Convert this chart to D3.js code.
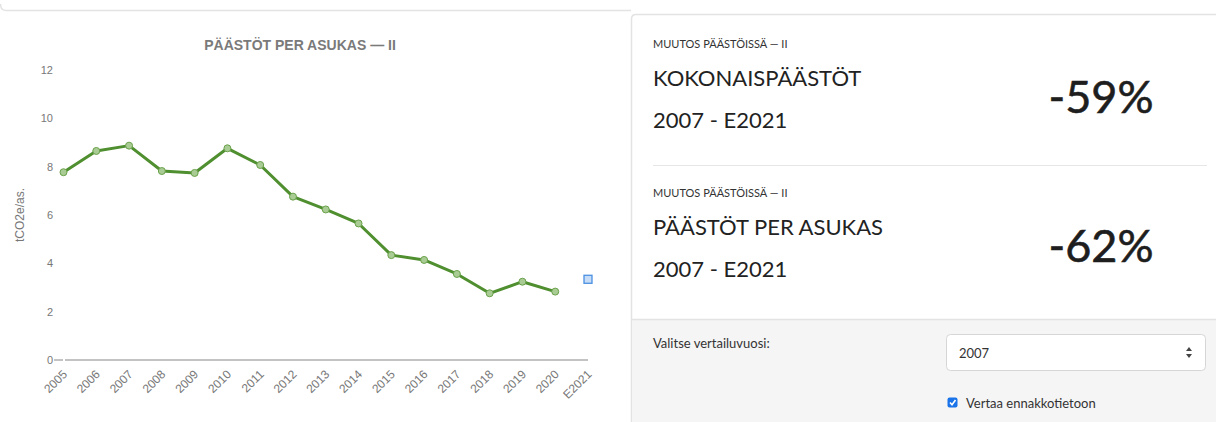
<!DOCTYPE html>
<html>
<head>
<meta charset="utf-8">
<script src="https://cdn.jsdelivr.net/npm/d3@7"></script>
<style>
  body { margin: 0; background: #fff; }
  svg { display: block; }
</style>
</head>
<body>
<div id="chart"></div>
<script>
// data
var years = ["2005", "2006", "2007", "2008", "2009", "2010", "2011", "2012", "2013", "2014", "2015", "2016", "2017", "2018", "2019", "2020", "E2021"];
var perCapita = [7.77, 8.65, 8.87, 7.82, 7.74, 8.76, 8.07, 6.76, 6.23, 5.65, 4.34, 4.14, 3.56, 2.76, 3.24, 2.83];
var estimateYear = "E2021";
var estimateValue = 3.34;
var yTicks = [0, 2, 4, 6, 8, 10, 12];

var cardTitles = ["KOKONAISPÄÄSTÖT", "PÄÄSTÖT PER ASUKAS"];
var cardChanges = ["-59%", "-62%"];
var cardPeriod = "2007 - E2021";
var compareYear = "2007";

var width = 1216, height = 422;

var svg = d3.select("#chart").append("svg")
  .attr("width", width)
  .attr("height", height);

// card border above the chart
svg.append("path")
  .attr("d", "M0.5,4 Q0.5,10.5 6,10.5 L631,10.5")
  .attr("fill", "none")
  .attr("stroke", "#e3e3e3")
  .attr("stroke-width", 1.5);

// ---- left chart ----
var x = d3.scalePoint().domain(years).range([63.5, 588]);
var y = d3.scaleLinear().domain([0, 12]).range([360, 70]);
var chartFont = "Liberation Sans, Arial, sans-serif";

svg.append("text")
  .attr("x", 300)
  .attr("y", 50)
  .attr("text-anchor", "middle")
  .style("font-family", chartFont)
  .style("font-size", "14px")
  .style("font-weight", "700")
  .style("fill", "#7a7a7a")
  .text("PÄÄSTÖT PER ASUKAS — II");

var yAxis = d3.axisLeft(y).tickValues(yTicks).tickSize(0).tickPadding(0);
var gy = svg.append("g").attr("transform", "translate(53,0)").call(yAxis);
gy.select(".domain").remove();
gy.selectAll("text")
  .attr("dy", "0.32em")
  .style("font-family", chartFont)
  .style("font-size", "11px")
  .style("fill", "#777");

// small tick at zero and the baseline
svg.append("line")
  .attr("x1", 54).attr("x2", 63)
  .attr("y1", y(0)).attr("y2", y(0))
  .attr("stroke", "#888").attr("stroke-width", 1);
svg.append("line")
  .attr("x1", 65).attr("x2", x(estimateYear))
  .attr("y1", y(0)).attr("y2", y(0))
  .attr("stroke", "#888").attr("stroke-width", 1.2);

var xAxis = d3.axisBottom(x).tickSize(0);
var gx = svg.append("g").attr("transform", "translate(0," + y(0) + ")").call(xAxis);
gx.select(".domain").remove();
gx.selectAll("text")
  .attr("x", 0)
  .attr("y", 0)
  .attr("dy", "0.35em")
  .attr("text-anchor", "end")
  .attr("transform", "translate(1,12) rotate(-45)")
  .style("font-family", chartFont)
  .style("font-size", "12px")
  .style("fill", "#777");

svg.append("text")
  .attr("transform", "translate(24,215) rotate(-90)")
  .attr("text-anchor", "middle")
  .style("font-family", chartFont)
  .style("font-size", "12px")
  .style("fill", "#777")
  .text("tCO2e/as.");

var lineData = perCapita.map(function (v, i) { return { year: years[i], value: v }; });

var line = d3.line()
  .x(function (d) { return x(d.year); })
  .y(function (d) { return y(d.value); });

svg.append("path")
  .datum(lineData)
  .attr("d", line)
  .attr("fill", "none")
  .attr("stroke", "#4f8f2f")
  .attr("stroke-width", 3)
  .attr("stroke-linejoin", "round");

svg.selectAll(".pt")
  .data(lineData)
  .enter()
  .append("circle")
  .attr("class", "pt")
  .attr("cx", function (d) { return x(d.year); })
  .attr("cy", function (d) { return y(d.value); })
  .attr("r", 3.5)
  .attr("fill", "#a9cc95")
  .attr("stroke", "#6aa14a")
  .attr("stroke-width", 1);

svg.append("rect")
  .attr("x", x(estimateYear) - 4)
  .attr("y", y(estimateValue) - 4)
  .attr("width", 8)
  .attr("height", 8)
  .attr("fill", "#c6dcf7")
  .attr("stroke", "#4a90e2")
  .attr("stroke-width", 1.3);

// ---- right panel ----
var px = 631, py = 14;
svg.append("path")
  .attr("d", "M" + (px + 0.5) + "," + height + " L" + (px + 0.5) + "," + (py + 5) +
    " Q" + (px + 0.5) + "," + (py + 0.5) + " " + (px + 5) + "," + (py + 0.5) + " L" + width + "," + (py + 0.5))
  .attr("fill", "#fff")
  .attr("stroke", "#e3e3e3")
  .attr("stroke-width", 1.5);

svg.append("rect")
  .attr("x", px + 1).attr("y", 320)
  .attr("width", width - px - 1).attr("height", height - 320)
  .attr("fill", "#f5f5f5");
svg.append("line")
  .attr("x1", px + 1).attr("x2", width)
  .attr("y1", 319.5).attr("y2", 319.5)
  .attr("stroke", "#e3e3e3").attr("stroke-width", 1.5);

svg.append("line")
  .attr("x1", 653).attr("x2", 1207)
  .attr("y1", 165.5).attr("y2", 165.5)
  .attr("stroke", "#e6e6e6").attr("stroke-width", 1);

var cardFont = "Lato, 'Open Sans', sans-serif";
var cards = svg.selectAll(".card")
  .data(cardTitles)
  .enter()
  .append("g")
  .attr("class", "card")
  .attr("transform", function (d, i) { return "translate(653," + (i * 149) + ")"; });

cards.append("text")
  .attr("x", 0).attr("y", 48)
  .style("font-family", cardFont)
  .style("font-size", "11px")
  .style("fill", "#333")
  .text("MUUTOS PÄÄSTÖISSÄ — II");

cards.append("text")
  .attr("x", 0).attr("y", 86)
  .style("font-family", cardFont)
  .style("font-size", "22px")
  .style("fill", "#222")
  .text(function (d) { return d; });

cards.append("text")
  .attr("x", 0).attr("y", 128)
  .style("font-family", cardFont)
  .style("font-size", "22px")
  .style("fill", "#222")
  .text(cardPeriod);

cards.append("text")
  .attr("x", 448).attr("y", 113)
  .attr("text-anchor", "middle")
  .style("font-family", cardFont)
  .style("font-size", "45px")
  .style("fill", "#1e1e1e")
  .style("stroke", "#1e1e1e")
  .style("stroke-width", "0.6px")
  .text(function (d, i) { return cardChanges[i]; });

// footer controls
svg.append("text")
  .attr("x", 653).attr("y", 348)
  .style("font-family", cardFont)
  .style("font-size", "13px")
  .style("fill", "#333")
  .text("Valitse vertailuvuosi:");

svg.append("rect")
  .attr("x", 946.5).attr("y", 334.5)
  .attr("width", 259).attr("height", 36)
  .attr("rx", 4)
  .attr("fill", "#fff")
  .attr("stroke", "#d6d6d6");

svg.append("text")
  .attr("x", 959).attr("y", 358)
  .style("font-family", cardFont)
  .style("font-size", "13px")
  .style("fill", "#333")
  .text(compareYear);

svg.append("path")
  .attr("d", "M1186,351 L1189,347 L1192,351 Z M1186,354 L1189,358 L1192,354 Z")
  .attr("fill", "#444");

svg.append("rect")
  .attr("x", 947.5).attr("y", 397.5)
  .attr("width", 10).attr("height", 10)
  .attr("rx", 2)
  .attr("fill", "#1a73e8");
svg.append("path")
  .attr("d", "M950,402.5 L952,404.7 L955.5,400")
  .attr("fill", "none")
  .attr("stroke", "#fff")
  .attr("stroke-width", 1.6);

svg.append("text")
  .attr("x", 966).attr("y", 408)
  .style("font-family", cardFont)
  .style("font-size", "13px")
  .style("fill", "#333")
  .text("Vertaa ennakkotietoon");
</script>
</body>
</html>
